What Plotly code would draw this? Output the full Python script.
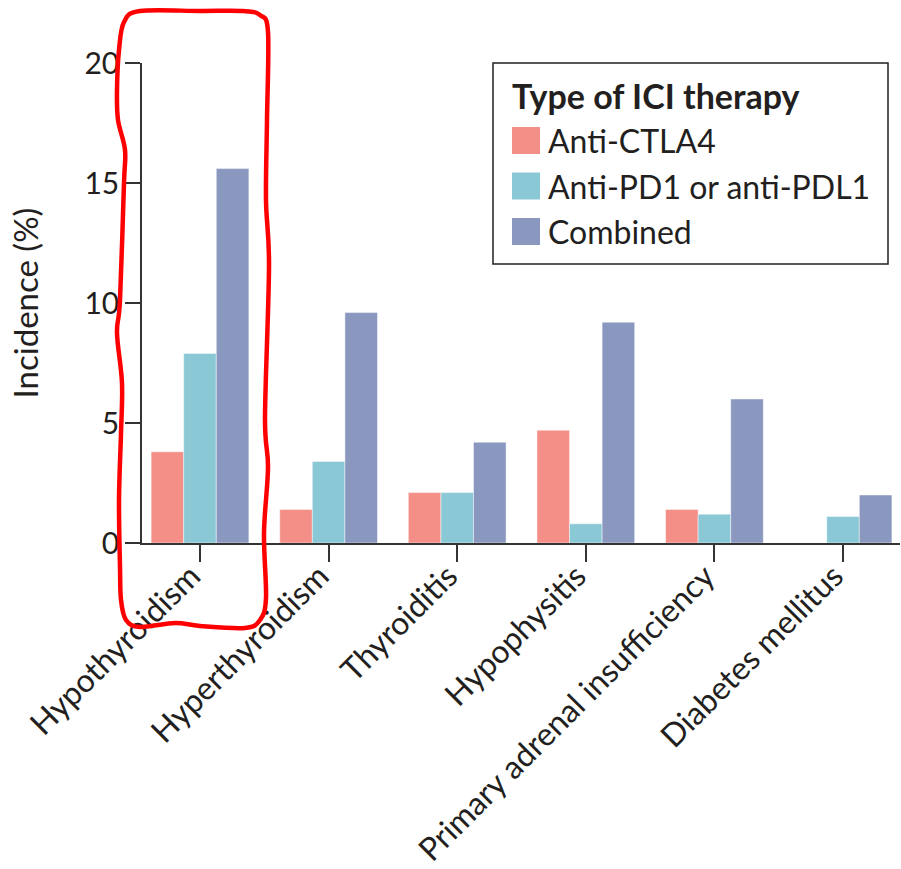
import plotly.graph_objects as go

# Incidence of endocrine immune-related adverse events by ICI therapy type
categories = ["Hypothyroidism", "Hyperthyroidism", "Thyroiditis", "Hypophysitis",
              "Primary adrenal insufficiency", "Diabetes mellitus"]
series_names = ["Anti-CTLA4", "Anti-PD1 or anti-PDL1", "Combined"]
anti_ctla4 = [3.8, 1.4, 2.1, 4.7, 1.4, 0.0]
anti_pd1 = [7.9, 3.4, 2.1, 0.8, 1.2, 1.1]
combined = [15.6, 9.6, 4.2, 9.2, 6.0, 2.0]
colors = ["#F48F88", "#8AC8D5", "#8A98C0"]
y_ticks = [0, 5, 10, 15, 20]

FONT = "Lato"
INK = "#231F20"
AXIS = "#333333"

W, H = 901, 869
ML, MR, MT, MB = 142, 1, 63, 326
PW, PH = W - ML - MR, H - MT - MB


def px(x):
    return (x - ML) / PW


def py(y):
    return (MT + PH - y) / PH


def smooth_closed_path(pts):
    """Catmull-Rom spline through closed point list, as SVG cubic path in paper units."""
    n = len(pts)
    P = [(px(x), py(y)) for x, y in pts]
    d = f"M {P[0][0]:.5f},{P[0][1]:.5f}"
    for i in range(n):
        p0, p1, p2, p3 = P[i - 1], P[i], P[(i + 1) % n], P[(i + 2) % n]
        c1 = (p1[0] + (p2[0] - p0[0]) / 6, p1[1] + (p2[1] - p0[1]) / 6)
        c2 = (p2[0] - (p3[0] - p1[0]) / 6, p2[1] - (p3[1] - p1[1]) / 6)
        d += f" C {c1[0]:.5f},{c1[1]:.5f} {c2[0]:.5f},{c2[1]:.5f} {p2[0]:.5f},{p2[1]:.5f}"
    return d + " Z"


fig = go.Figure()
for name, vals, col in zip(series_names, [anti_ctla4, anti_pd1, combined], colors):
    fig.add_trace(go.Bar(
        x=categories, y=vals, name=name,
        marker=dict(color=col, line=dict(color="rgba(255,255,255,0.45)", width=1)),
        showlegend=False,
    ))

shapes = []
annotations = []

# legend box
lx0, ly0, lx1, ly1 = 493, 63, 888, 264
shapes.append(dict(type="rect", xref="paper", yref="paper",
                   x0=px(lx0), x1=px(lx1), y0=py(ly1), y1=py(ly0),
                   line=dict(color=INK, width=1.5), fillcolor="white", layer="above"))
annotations.append(dict(xref="paper", yref="paper", x=px(510), y=py(96),
                        xanchor="left", yanchor="middle", showarrow=False,
                        text="<b>Type of ICI therapy</b>",
                        font=dict(family=FONT, size=34, color=INK)))
for i, (name, col) in enumerate(zip(series_names, colors)):
    cy = 140.5 + i * 45.5
    shapes.append(dict(type="rect", xref="paper", yref="paper",
                       x0=px(512), x1=px(540), y0=py(cy + 13.5), y1=py(cy - 13.5),
                       line=dict(width=0), fillcolor=col, layer="above"))
    annotations.append(dict(xref="paper", yref="paper", x=px(546), y=py(cy),
                            xanchor="left", yanchor="middle", showarrow=False,
                            text=name, font=dict(family=FONT, size=32, color=INK)))

# hand-drawn highlight around the first category
outline = [
    (140, 11), (200, 11), (243, 11),
    (260, 15), (268, 32),
    (267, 120), (266, 200), (269, 267), (265, 417), (268, 467), (264, 533), (266, 598),
    (260, 620), (245, 628), (200, 626), (175, 623), (140, 627),
    (126, 620), (121, 600), (120, 567), (119, 500), (121, 433), (122, 383),
    (117, 333), (120, 300), (124, 183), (125, 150), (118, 120), (117, 90),
    (119, 50), (124, 22),
]
shapes.append(dict(type="path", xref="paper", yref="paper", path=smooth_closed_path(outline),
                   line=dict(color="#FF0000", width=4.5), layer="above"))

fig.update_layout(
    width=W, height=H,
    margin=dict(l=ML, r=MR, t=MT, b=MB, pad=0, autoexpand=False),
    paper_bgcolor="white", plot_bgcolor="white",
    barmode="group", bargap=0.24, bargroupgap=0,
    font=dict(family=FONT, color=INK),
    shapes=shapes, annotations=annotations,
    xaxis=dict(
        range=[-0.451, 5.443], tickangle=-45, automargin=False,
        ticklabelstandoff=-17, ticklabelshift=-9,
        showline=True, linecolor=AXIS, linewidth=1.5,
        ticks="outside", ticklen=17, tickwidth=1.5, tickcolor=AXIS,
        tickfont=dict(family=FONT, size=32, color=INK),
        showgrid=False, zeroline=False,
    ),
    yaxis=dict(
        range=[0, 20], tickvals=y_ticks, automargin=False,
        showline=True, linecolor=AXIS, linewidth=1.5,
        ticks="outside", ticklen=15, tickwidth=1.5, tickcolor=AXIS,
        tickfont=dict(family=FONT, size=30, color=INK),
        showgrid=False, zeroline=False,
        title=dict(text="Incidence (%)", font=dict(family=FONT, size=33, color=INK), standoff=36),
    ),
)

fig.write_html("out.html")
